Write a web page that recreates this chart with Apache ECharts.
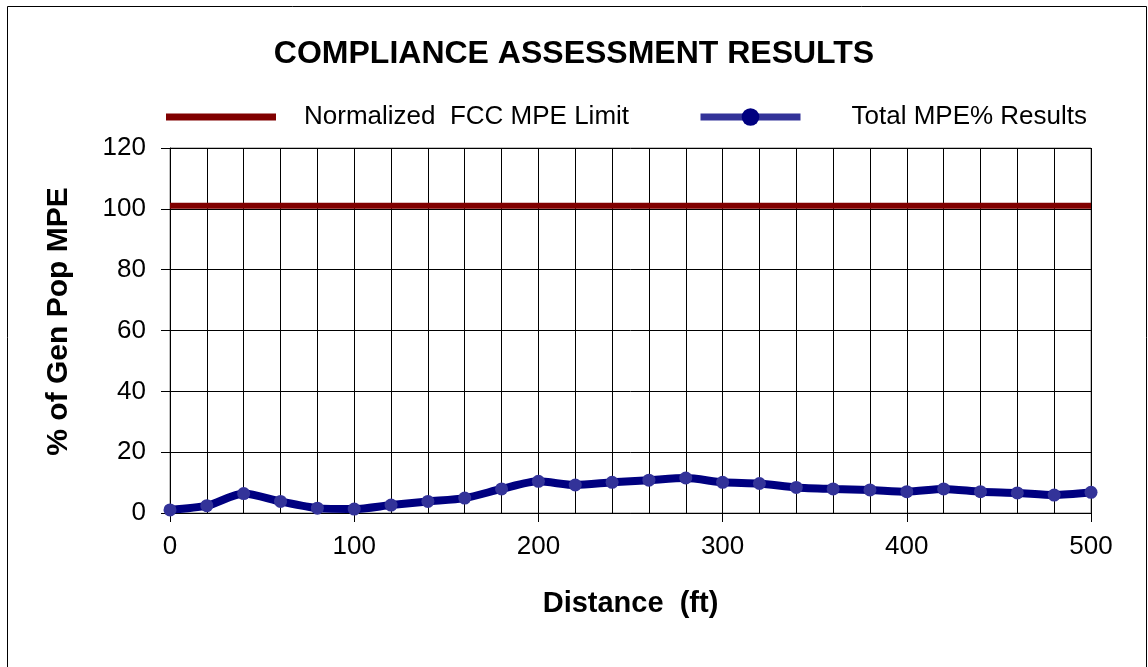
<!DOCTYPE html>
<html><head><meta charset="utf-8">
<script src="https://cdn.jsdelivr.net/npm/echarts@6/dist/echarts.min.js"></script>
<style>html,body{margin:0;padding:0;background:#fff}#c{width:1148px;height:667px}</style>
</head><body><div id="c"></div>
<script>
const distances = [0,20,40,60,80,100,120,140,160,180,200,220,240,260,280,300,320,340,360,380,400,420,440,460,480,500];
const totalMPE = [1.0,2.4,6.4,3.8,1.6,1.3,2.6,3.8,4.9,7.9,10.4,9.2,10.1,10.8,11.5,10.1,9.7,8.4,7.9,7.6,7.0,7.9,7.0,6.6,5.9,6.8];
const limitX = [0,500];
const limitY = [101,101];
const seriesNames = ['Normalized  FCC MPE Limit','Total MPE% Results'];

const chart = echarts.init(document.getElementById('c'));
const F = 'Liberation Sans, Arial, sans-serif';
chart.setOption({
  backgroundColor:'#fff',
  animation:false,
  title:{text:'COMPLIANCE ASSESSMENT RESULTS',left:'center',top:33,
    textStyle:{fontFamily:F,fontSize:32,fontWeight:'bold',color:'#000'}},
  legend:[
    {data:[{name:seriesNames[0],icon:'rect'}],left:166,top:104,padding:0,itemWidth:110,itemHeight:7,
     textStyle:{fontFamily:F,fontSize:26,color:'#000',padding:[0,0,0,23]}},
    {data:[seriesNames[1]],left:697,top:104,padding:0,itemWidth:100,itemHeight:22,
     lineStyle:{width:7,color:'#333399'},itemStyle:{color:'#000080'},
     textStyle:{fontFamily:F,fontSize:26,color:'#000',padding:[0,0,0,46]}}
  ],
  grid:{left:170,right:57,top:148,bottom:154,show:true,borderColor:'#808080',borderWidth:1,containLabel:false},
  xAxis:{type:'value',min:0,max:500,interval:100,
    name:'Distance  (ft)',nameLocation:'middle',nameGap:76,
    nameTextStyle:{fontFamily:F,fontSize:29,fontWeight:'bold',color:'#000'},
    axisLine:{show:true,onZero:false,lineStyle:{color:'#000',width:1}},
    axisTick:{show:true,length:9,lineStyle:{color:'#000'}},
    axisLabel:{fontFamily:F,fontSize:26,color:'#000',margin:21},
    splitLine:{show:true,lineStyle:{color:'#000',width:1}},
    minorTick:{show:false,splitNumber:5},
    minorSplitLine:{show:true,lineStyle:{color:'#000',width:1}}},
  yAxis:{type:'value',min:0,max:120,interval:20,
    name:'% of Gen Pop MPE',nameLocation:'middle',nameGap:96,
    nameTextStyle:{fontFamily:F,fontSize:30,fontWeight:'bold',color:'#000',padding:[0,0,0,18]},
    axisLine:{show:true,lineStyle:{color:'#000',width:1}},
    axisTick:{show:true,length:9,lineStyle:{color:'#000'}},
    axisLabel:{fontFamily:F,fontSize:26,color:'#000',margin:24},
    splitLine:{show:true,lineStyle:{color:'#000',width:1}}},
  graphic:[{type:'rect',shape:{x:7.5,y:6.5,width:1139,height:720},
    style:{fill:null,stroke:'#000',lineWidth:1},silent:true}],
  series:[
    {name:seriesNames[0],type:'line',data:limitX.map((x,i)=>[x,limitY[i]]),
     symbol:'none',lineStyle:{color:'#800000',width:6},itemStyle:{color:'#800000'},z:3},
    {name:seriesNames[1],type:'line',data:distances.map((x,i)=>[x,totalMPE[i]]),
     smooth:0.25,symbol:'circle',symbolSize:13,
     lineStyle:{color:'#000080',width:8},itemStyle:{color:'#333399'},z:4}
  ]
});
</script></body></html>
